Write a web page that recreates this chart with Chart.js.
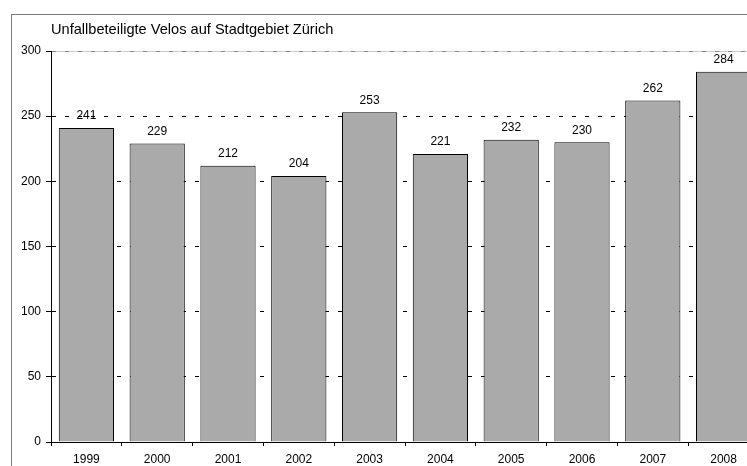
<!DOCTYPE html>
<html>
<head>
<meta charset="utf-8">
<script src="https://cdn.jsdelivr.net/npm/chart.js@4/dist/chart.umd.min.js"></script>
<style>
html,body{margin:0;padding:0;background:#fff;overflow:hidden;width:747px;height:466px;}
canvas{display:block;}
</style>
</head>
<body>
<canvas id="c" width="780" height="466"></canvas>
<script>
const title = 'Unfallbeteiligte Velos auf Stadtgebiet Zürich';
const categories = ['1999','2000','2001','2002','2003','2004','2005','2006','2007','2008'];
const values = [241, 229, 212, 204, 253, 221, 232, 230, 262, 284];
const yTicks = [0, 50, 100, 150, 200, 250, 300];

const FONT = "'Liberation Sans', Arial, sans-serif";

const framePlugin = {
  id: 'frame',
  beforeDraw(chart) {
    const ctx = chart.ctx;
    ctx.save();
    ctx.fillStyle = '#fff';
    ctx.fillRect(0, 0, chart.width, chart.height);
    ctx.strokeStyle = '#7a7a7a';
    ctx.lineWidth = 1;
    ctx.strokeRect(11.5, 14.5, 2000, 2000);
    ctx.fillStyle = '#000';
    ctx.font = '14.6px ' + FONT;
    ctx.textBaseline = 'middle';
    ctx.textAlign = 'left';
    ctx.fillText(title, 51, 30);
    // light solid line along the top of the plot area
    const a = chart.chartArea;
    ctx.strokeStyle = '#cccccc';
    ctx.beginPath();
    ctx.moveTo(a.left, Math.round(a.top) + 0.5);
    ctx.lineTo(a.right, Math.round(a.top) + 0.5);
    ctx.stroke();
    ctx.restore();
  },
  afterDatasetsDraw(chart) {
    const ctx = chart.ctx;
    const meta = chart.getDatasetMeta(0);
    ctx.save();
    ctx.fillStyle = '#000';
    ctx.font = '12px ' + FONT;
    ctx.textAlign = 'center';
    ctx.textBaseline = 'middle';
    meta.data.forEach((bar, i) => {
      ctx.fillText(String(values[i]), bar.x, bar.y - 12);
    });
    ctx.restore();
  }
};

new Chart(document.getElementById('c'), {
  type: 'bar',
  data: {
    labels: categories,
    datasets: [{
      data: values,
      backgroundColor: '#aaaaaa',
      borderColor: '#000',
      borderWidth: 1,
      barPercentage: 0.78,
      categoryPercentage: 1.0
    }]
  },
  options: {
    responsive: false,
    animation: false,
    devicePixelRatio: 1,
    layout: { padding: { left: 0, right: 21, top: 51, bottom: 0 } },
    plugins: { legend: { display: false }, tooltip: { enabled: false }, title: { display: false } },
    scales: {
      x: {
        offset: true,
        grid: { offset: true, drawOnChartArea: false, drawTicks: true, tickLength: 4, color: '#000', tickColor: '#000' },
        border: { display: true, color: '#000', width: 1 },
        ticks: { color: '#000', font: { family: FONT, size: 12 }, padding: 6, maxRotation: 0 },
        afterFit(s) { s.height = 24; }
      },
      y: {
        min: 0, max: 300,
        afterBuildTicks(s) { s.ticks = yTicks.map(v => ({ value: v })); },
        grid: {
          drawTicks: true, tickLength: 5,
          color: (c) => (c.tick && c.tick.value === 300) ? '#888888' : '#000',
          tickColor: '#000',
          tickBorderDash: []
        },
        border: { display: true, color: '#000', width: 1, dash: [4, 9] },
        ticks: { color: '#000', font: { family: FONT, size: 12 }, padding: 5 },
        afterFit(s) { s.width = 51; }
      }
    }
  },
  plugins: [framePlugin]
});
</script>
</body>
</html>
